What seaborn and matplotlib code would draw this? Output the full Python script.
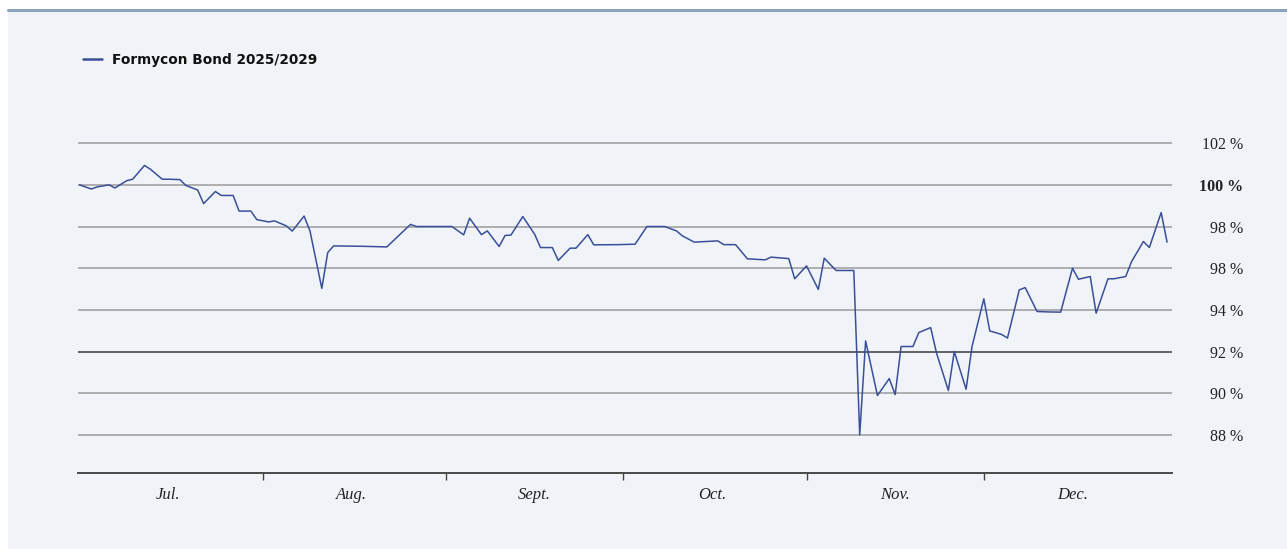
import matplotlib
matplotlib.use("Agg")
import matplotlib.pyplot as plt
import matplotlib.dates as mdates
from matplotlib.patches import Rectangle
from matplotlib.lines import Line2D
import seaborn as sns
import pandas as pd

# ---------------- data ----------------
series_name = "Formycon Bond 2025/2029"

dates = ["2025-06-30", "2025-07-02", "2025-07-03", "2025-07-05", "2025-07-06", "2025-07-08",
         "2025-07-09", "2025-07-11", "2025-07-12", "2025-07-14", "2025-07-15", "2025-07-17",
         "2025-07-18", "2025-07-20", "2025-07-21", "2025-07-23", "2025-07-24", "2025-07-26",
         "2025-07-27", "2025-07-29", "2025-07-30", "2025-08-01", "2025-08-02", "2025-08-04",
         "2025-08-05", "2025-08-07", "2025-08-08", "2025-08-10", "2025-08-11", "2025-08-12",
         "2025-08-17", "2025-08-21", "2025-08-25", "2025-08-26", "2025-08-29", "2025-09-01",
         "2025-09-03", "2025-09-04", "2025-09-06", "2025-09-07", "2025-09-09", "2025-09-10",
         "2025-09-11", "2025-09-13", "2025-09-15", "2025-09-16", "2025-09-18", "2025-09-19",
         "2025-09-21", "2025-09-22", "2025-09-24", "2025-09-25", "2025-09-29", "2025-10-02",
         "2025-10-04", "2025-10-06", "2025-10-07", "2025-10-09", "2025-10-10", "2025-10-12",
         "2025-10-14", "2025-10-16", "2025-10-17", "2025-10-19", "2025-10-21", "2025-10-24",
         "2025-10-25", "2025-10-28", "2025-10-29", "2025-10-31", "2025-11-02", "2025-11-03",
         "2025-11-05", "2025-11-06", "2025-11-08", "2025-11-09", "2025-11-10", "2025-11-12",
         "2025-11-14", "2025-11-15", "2025-11-16", "2025-11-18", "2025-11-19", "2025-11-21",
         "2025-11-22", "2025-11-24", "2025-11-25", "2025-11-27", "2025-11-28", "2025-11-30",
         "2025-12-01", "2025-12-03", "2025-12-04", "2025-12-06", "2025-12-07", "2025-12-09",
         "2025-12-11", "2025-12-13", "2025-12-15", "2025-12-16", "2025-12-18", "2025-12-19",
         "2025-12-21", "2025-12-22", "2025-12-24", "2025-12-25", "2025-12-27", "2025-12-28",
         "2025-12-30", "2025-12-31"]

values = [100.0, 99.8, 99.9, 100.0, 99.85, 100.2, 100.27, 100.93, 100.75, 100.27,
          100.27, 100.25, 99.97, 99.75, 99.1, 99.68, 99.49, 99.49, 98.74, 98.74,
          98.33, 98.22, 98.27, 98.03, 97.78, 98.5, 97.78, 95.03, 96.75, 97.07,
          97.05, 97.02, 98.1, 98.0, 98.0, 98.0, 97.6, 98.4, 97.61, 97.79,
          97.04, 97.57, 97.59, 98.48, 97.63, 96.99, 96.99, 96.37, 96.96, 96.96,
          97.61, 97.12, 97.13, 97.15, 98.0, 98.0, 98.0, 97.79, 97.55, 97.25,
          97.28, 97.31, 97.13, 97.13, 96.45, 96.4, 96.53, 96.46, 95.49, 96.11,
          94.98, 96.48, 95.89, 95.89, 95.89, 88.0, 92.51, 89.89, 90.7, 89.93,
          92.24, 92.24, 92.91, 93.15, 91.92, 90.13, 92.0, 90.19, 92.24, 94.53,
          92.99, 92.82, 92.65, 94.96, 95.07, 93.92, 93.9, 93.89, 96.0, 95.47,
          95.6, 93.84, 95.49, 95.49, 95.6, 96.32, 97.28, 96.99, 98.67, 97.25]

y_ticks = [102, 100, 98, 96, 94, 92, 90, 88]
y_tick_labels = ["102 %", "100 %", "98 %", "98 %", "94 %", "92 %", "90 %", "88 %"]

month_ends = ["2025-07-31", "2025-08-31", "2025-09-30", "2025-10-31", "2025-11-30"]
month_mids = ["2025-07-15", "2025-08-15", "2025-09-15", "2025-10-15", "2025-11-15", "2025-12-15"]
month_labels = ["Jul.", "Aug.", "Sept.", "Oct.", "Nov.", "Dec."]

# ---------------- styling ----------------
BG = "#f0f4f9"
LINE = "#3a4f9a"
GRID = "#a8a8a8"

sns.set_style("white")
plt.rcParams["font.family"] = ["DejaVu Sans"]

W, H = 1287, 549
fig = plt.figure(figsize=(W / 100, H / 100), dpi=100, facecolor="white")

# panel background and top border
fig.patches.append(Rectangle((8 / W, 0), 1, (H - 10) / H, transform=fig.transFigure,
                             facecolor=BG, edgecolor="none", zorder=-10))
fig.lines.append(Line2D([8 / W, 1], [1 - 10 / H, 1 - 10 / H], transform=fig.transFigure,
                        color="#8ca3bb", linewidth=2.2))

ax = fig.add_axes([78 / W, (H - 473) / H, 1094 / W, 334 / H])
ax.set_facecolor(BG)
ax.patch.set_alpha(0)

df = pd.DataFrame({"date": pd.to_datetime(dates), "value": values})
sns.lineplot(data=df, x="date", y="value", ax=ax, color=LINE, linewidth=1.1,
             estimator=None, label=series_name, legend=False)

ax.set_xlim(pd.Timestamp("2025-06-29 18:00"), pd.Timestamp("2025-12-31 20:00"))
ax.set_ylim(86.17, 102.2)

# y axis on the right
ax.yaxis.tick_right()
ax.set_yticks(y_ticks)
ax.set_yticklabels(y_tick_labels, family="Liberation Serif", fontsize=11.5, color="#222222")
for lbl in ax.get_yticklabels():
    lbl.set_horizontalalignment("right")
    if lbl.get_text() == "100 %":
        lbl.set_fontweight("bold")
ax.tick_params(axis="y", length=0, pad=51)

ax.grid(axis="y", color=GRID, linewidth=1.3)
ax.grid(axis="x", visible=False)
for val, gl in zip(y_ticks, ax.get_ygridlines()):
    if val == 92:
        gl.set_color("#3a3a3a")
        gl.set_linewidth(1.1)
ax.set_axisbelow(True)

# x axis: tick marks at month ends, labels mid-month
ax.xaxis.set_major_locator(matplotlib.ticker.FixedLocator(mdates.date2num(pd.to_datetime(month_ends))))
ax.xaxis.set_major_formatter(matplotlib.ticker.NullFormatter())
ax.xaxis.set_minor_locator(matplotlib.ticker.FixedLocator(mdates.date2num(pd.to_datetime(month_mids))))
ax.xaxis.set_minor_formatter(matplotlib.ticker.FixedFormatter(month_labels))
ax.tick_params(axis="x", which="both", bottom=True, labelbottom=True)
ax.tick_params(axis="x", which="major", length=5, width=1.0, color="#444444", direction="out")
ax.tick_params(axis="x", which="minor", length=0, pad=10, labelsize=12, labelcolor="#222222")
for lbl in ax.get_xticklabels(minor=True):
    lbl.set_family("Liberation Serif")
    lbl.set_style("italic")

for s in ["top", "left", "right"]:
    ax.spines[s].set_visible(False)
ax.spines["bottom"].set_color("#4a4a4a")
ax.spines["bottom"].set_linewidth(1.4)

ax.set_xlabel("")
ax.set_ylabel("")

# legend
handles = [Line2D([], [], color=LINE, linewidth=1.8)]
leg = fig.legend(handles, [series_name], loc="center left",
                 bbox_to_anchor=(83 / W, 1 - 60 / H), frameon=False,
                 borderpad=0, borderaxespad=0, handlelength=1.4, handletextpad=0.75,
                 prop={"family": "DejaVu Sans", "weight": "bold", "size": 9.8})
for t in leg.get_texts():
    t.set_color("#111111")

fig.savefig("out.png", dpi=100, facecolor=fig.get_facecolor())
